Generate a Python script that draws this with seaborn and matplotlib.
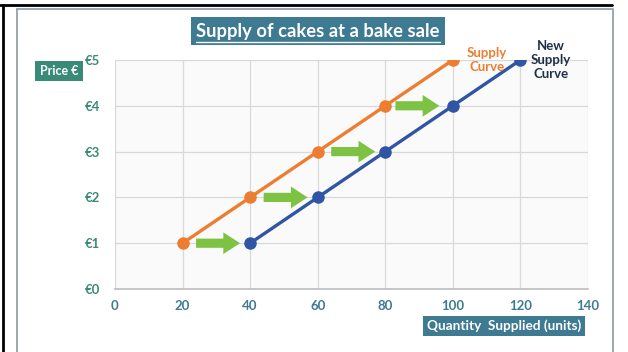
import matplotlib
matplotlib.use("Agg")
import matplotlib.pyplot as plt
import seaborn as sns
import pandas as pd
from matplotlib.lines import Line2D

# Data
supply_qty = [20, 40, 60, 80, 100]
supply_price = [1, 2, 3, 4, 5]
new_qty = [40, 60, 80, 100, 120]
new_price = [1, 2, 3, 4, 5]
arrow_start = [24, 44, 64, 83]
arrow_end = [37, 57, 77, 96]
arrow_y = [1, 2, 3, 4]
x_ticks = [0, 20, 40, 60, 80, 100, 120, 140]
y_ticks = [0, 1, 2, 3, 4, 5]
y_labels = ["€0", "€1", "€2", "€3", "€4", "€5"]

sns.set_theme(style="white")
plt.rcParams["font.family"] = ["Lato", "DejaVu Sans"]

ORANGE = "#ed7d31"
BLUE = "#2f55a4"
GREEN = "#7dc242"
TEAL = "#3e7a91"
TEALG = "#3a8a78"

fig = plt.figure(figsize=(6.28, 3.52), dpi=100)
ax = fig.add_axes([115/628, 1-289/352, (588-115)/628, (289-60)/352])
ax.set_facecolor("#fafafa")

df_s = pd.DataFrame({"q": supply_qty, "p": supply_price})
df_n = pd.DataFrame({"q": new_qty, "p": new_price})
sns.lineplot(data=df_s, x="q", y="p", ax=ax, color=ORANGE, lw=2.4, marker="o",
             markersize=9, markeredgewidth=0, zorder=3)
sns.lineplot(data=df_n, x="q", y="p", ax=ax, color=BLUE, lw=2.4, marker="o",
             markersize=9, markeredgewidth=0, zorder=3)

for xs, xe, yy in zip(arrow_start, arrow_end, arrow_y):
    ax.annotate("", xy=(xe, yy), xytext=(xs, yy),
                arrowprops=dict(arrowstyle="simple,head_width=1.3,head_length=1.0,tail_width=0.55",
                                color=GREEN, lw=0, shrinkA=0, shrinkB=0), zorder=4)

ax.set_xlim(0, 140)
ax.set_ylim(0, 5)
ax.set_xticks(x_ticks)
ax.set_yticks(y_ticks)
ax.set_yticklabels(y_labels)
ax.grid(True, color="#d9d9d9", lw=0.9)
ax.set_axisbelow(True)
for s in ["top", "right", "left"]:
    ax.spines[s].set_visible(False)
ax.spines["bottom"].set_color("#bfbfbf")
ax.tick_params(axis="x", length=4, color="#bfbfbf", pad=6, labelsize=9.5, labelcolor=TEAL, direction="inout")
ax.tick_params(axis="y", length=0, pad=11, labelsize=9.5, labelcolor=TEALG)
for t in ax.get_xticklabels() + ax.get_yticklabels():
    t.set_fontweight("bold")
ax.set_xlabel("")
ax.set_ylabel("")

# curve labels
ax.text(110, 5.0, "Supply\nCurve", color=ORANGE, fontsize=9.5, fontweight="bold",
        ha="center", va="center", linespacing=1.2, zorder=5)
ax.text(129, 5.0, "New\nSupply\nCurve", color="#1f3146", fontsize=9.5, fontweight="bold",
        ha="center", va="center", linespacing=1.2, zorder=5)

# title
fig.text(318/628, 1-31/352, "Supply of cakes at a bake sale", color="white", fontsize=13.2,
         fontweight="bold", ha="center", va="center",
         bbox=dict(boxstyle="square,pad=0.3", fc=TEAL, ec="none"))
# underline for title
fig.add_artist(Line2D([196/628, 440/628], [1-42/352, 1-42/352], color="white", lw=1.0, zorder=10))

# Price label
fig.text(59/628, 1-71/352, "Price €", color="white", fontsize=9, fontweight="bold",
         ha="center", va="center", bbox=dict(boxstyle="square,pad=0.35", fc=TEALG, ec="none"))
# Quantity label
fig.text(504/628, 1-326/352, "Quantity  Supplied (units)", color="white", fontsize=9.8,
         fontweight="bold", ha="center", va="center",
         bbox=dict(boxstyle="square,pad=0.3", fc=TEAL, ec="none"))

# frame
fig.add_artist(Line2D([0, 612/628], [1-5/352, 1-5/352], color="black", lw=2))
fig.add_artist(Line2D([3/628, 3/628], [0, 1-5/352], color="black", lw=2))
fig.add_artist(Line2D([17/628, 613/628, 613/628], [1-9/352, 1-9/352, 0], color="#8c9aa3", lw=1.2))
fig.add_artist(Line2D([17/628, 17/628], [0, 1-9/352], color="#8c9aa3", lw=1.2))

fig.savefig("out.png", dpi=100)
